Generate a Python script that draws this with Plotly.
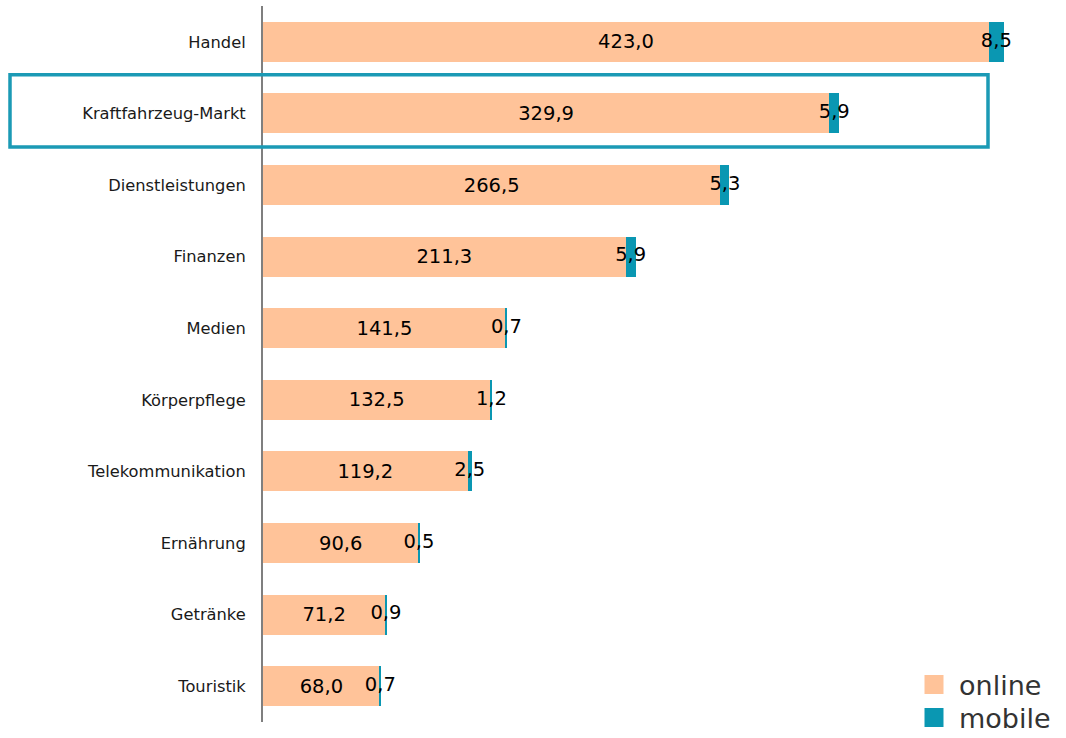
import plotly.graph_objects as go

categories = ["Handel", "Kraftfahrzeug-Markt", "Dienstleistungen", "Finanzen", "Medien",
              "Körperpflege", "Telekommunikation", "Ernährung", "Getränke", "Touristik"]
online = [423.0, 329.9, 266.5, 211.3, 141.5, 132.5, 119.2, 90.6, 71.2, 68.0]
mobile = [8.5, 5.9, 5.3, 5.9, 0.7, 1.2, 2.5, 0.5, 0.9, 0.7]

ONLINE_C = "#FFC399"
MOBILE_C = "#0A97B2"
FONT = "DejaVu Sans"

fig = go.Figure()
fig.add_trace(go.Bar(
    y=categories, x=online, orientation="h", name="online",
    marker=dict(color=ONLINE_C, line=dict(width=0)),
    texttemplate="%{x:.1f}", textposition="inside", insidetextanchor="middle",
    textfont=dict(family=FONT, size=19.5, color="#000000"),
    showlegend=False, hoverinfo="skip"))
fig.add_trace(go.Bar(
    y=categories, x=mobile, orientation="h", name="mobile",
    marker=dict(color=MOBILE_C, line=dict(width=0)),
    showlegend=False, hoverinfo="skip"))
# mobile value labels centred on mobile segment
fig.add_trace(go.Scatter(
    y=categories, x=[o + m / 2 for o, m in zip(online, mobile)],
    mode="text", text=[f"{m:.1f}".replace(".", ",") for m in mobile],
    textposition="middle center",
    textfont=dict(family=FONT, size=19.5, color="#000000"),
    showlegend=False, hoverinfo="skip", cliponaxis=False))
# legend entries (one legend each, so their spacing can match)
fig.add_trace(go.Scatter(x=[None], y=[None], mode="markers", name="online", legend="legend",
                         marker=dict(symbol="square", size=16, color=ONLINE_C,
                                     line=dict(width=3, color=ONLINE_C))))
fig.add_trace(go.Scatter(x=[None], y=[None], mode="markers", name="mobile", legend="legend2",
                         marker=dict(symbol="square", size=16, color=MOBILE_C,
                                     line=dict(width=3, color=MOBILE_C))))

W, H = 1066, 738
ml, mr, mt, mb = 263, 10, 6, 16
plot_w = W - ml - mr
plot_h = H - mt - mb
px_per_unit = 726 / 423.0
xmax = plot_w / px_per_unit

leg_common = dict(xanchor="left", yanchor="middle",
                  font=dict(family=FONT, size=27, color="#333333"),
                  bgcolor="rgba(0,0,0,0)", itemwidth=40)

fig.update_layout(
    width=W, height=H,
    margin=dict(l=ml, r=mr, t=mt, b=mb, pad=0, autoexpand=False),
    barmode="stack", bargap=0.44,
    separators=",.",
    plot_bgcolor="white", paper_bgcolor="white",
    font=dict(family=FONT, color="#1a1a1a"),
    xaxis=dict(range=[0, xmax], visible=False, showgrid=False, zeroline=False, fixedrange=True),
    yaxis=dict(categoryorder="array", categoryarray=categories, autorange="reversed",
               showline=True, linecolor="#7f7f7f", linewidth=2, ticks="",
               ticklabelstandoff=12, fixedrange=True,
               tickfont=dict(family=FONT, size=16.3, color="#1a1a1a"),
               showgrid=False, zeroline=False),
    legend=dict(x=(909 - ml) / plot_w, y=(H - mb - 685) / plot_h, **leg_common),
    legend2=dict(x=(909 - ml) / plot_w, y=(H - mb - 718) / plot_h, **leg_common),
    shapes=[dict(type="rect", xref="paper", yref="y",
                 x0=(10 - ml) / plot_w, x1=(988 - ml) / plot_w,
                 y0=0.46, y1=1.47,
                 line=dict(color="#1B9AB5", width=3.5), fillcolor="rgba(0,0,0,0)",
                 layer="above")],
)

fig.write_html("out.html", config={"displayModeBar": False},
               post_script="document.body.style.margin='0px';document.body.style.padding='0px';")
